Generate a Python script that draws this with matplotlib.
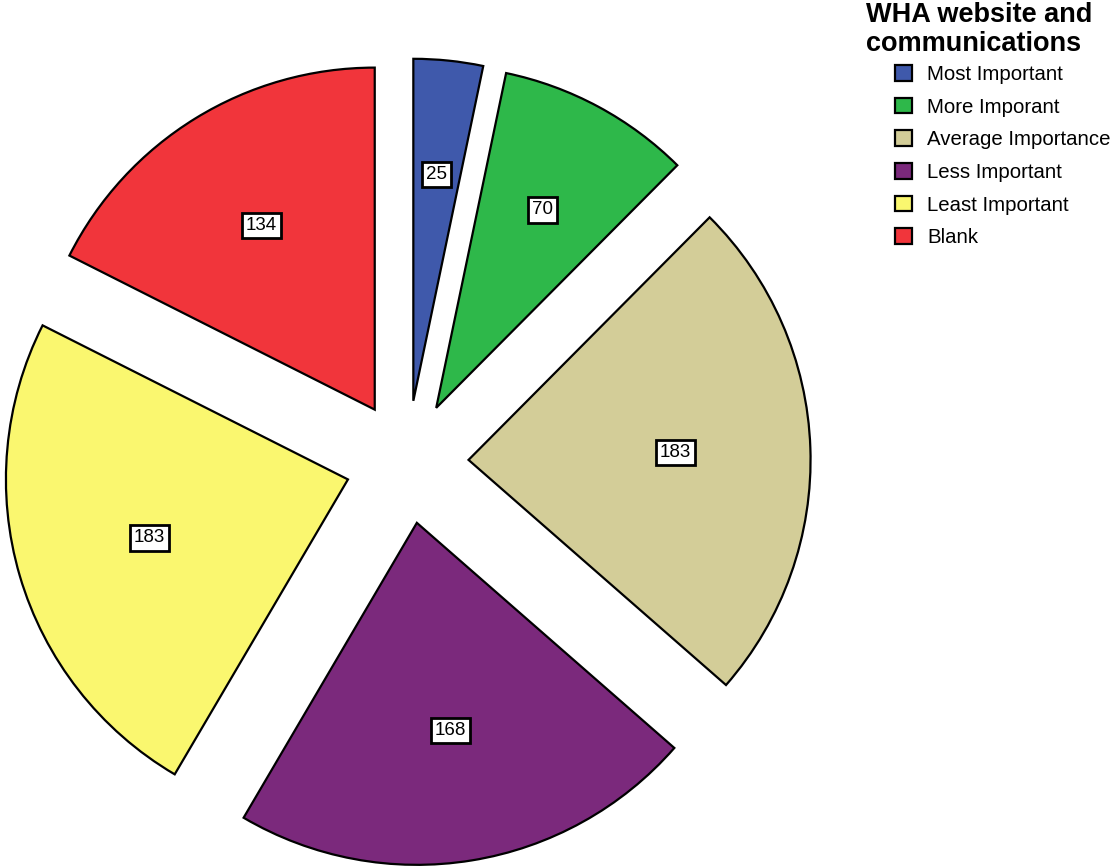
import matplotlib
matplotlib.use("Agg")
import matplotlib.pyplot as plt
import numpy as np

plt.rcParams.update({
    "font.family": ["Liberation Sans", "DejaVu Sans"],
})

categories = ["Most Important", "More Imporant", "Average Importance",
              "Less Important", "Least Important", "Blank"]
counts = [25, 70, 183, 168, 183, 134]
colors = ["#3F59AB", "#2EB84A", "#D3CD98", "#7B297C", "#FAF76F", "#F1353B"]
title = "WHA website and\ncommunications"

fig = plt.figure(figsize=(11.15, 8.67), dpi=100)
ax = fig.add_axes([0, 0, 1, 1])

wedges, _ = ax.pie(counts, colors=colors, startangle=90, counterclock=False,
                   explode=[0.18] * len(counts), radius=1.0,
                   wedgeprops=dict(edgecolor="black", linewidth=1.6))

# count labels sit on each wedge's centroid
for w, n in zip(wedges, counts):
    half = np.deg2rad(w.theta2 - w.theta1) / 2
    mid = np.deg2rad(w.theta1 + w.theta2) / 2
    d = w.r * 2 * np.sin(half) / (3 * half)
    cx, cy = w.center
    ax.text(cx + d * np.cos(mid), cy + d * np.sin(mid), str(n),
            ha="center", va="center", fontsize=13.5,
            bbox=dict(boxstyle="square,pad=0.22", fc="white", ec="black", lw=2))

ax.set_xlim(-1.190, 2.070)
ax.set_ylim(-1.184, 1.351)
ax.set_aspect("auto")
ax.axis("off")

fig.text(866 / 1115, 1 - 2 / 867, title, ha="left", va="top",
         fontsize=19.5, fontweight="bold", linespacing=1.15)
fig.legend(wedges, categories, loc="upper left",
           bbox_to_anchor=(895 / 1115, 1 - 65 / 867), frameon=False,
           fontsize=14.7, handlelength=0.85, handleheight=0.8,
           handletextpad=0.72, labelspacing=0.67, borderaxespad=0, borderpad=0)

fig.savefig("out.png", dpi=100)
